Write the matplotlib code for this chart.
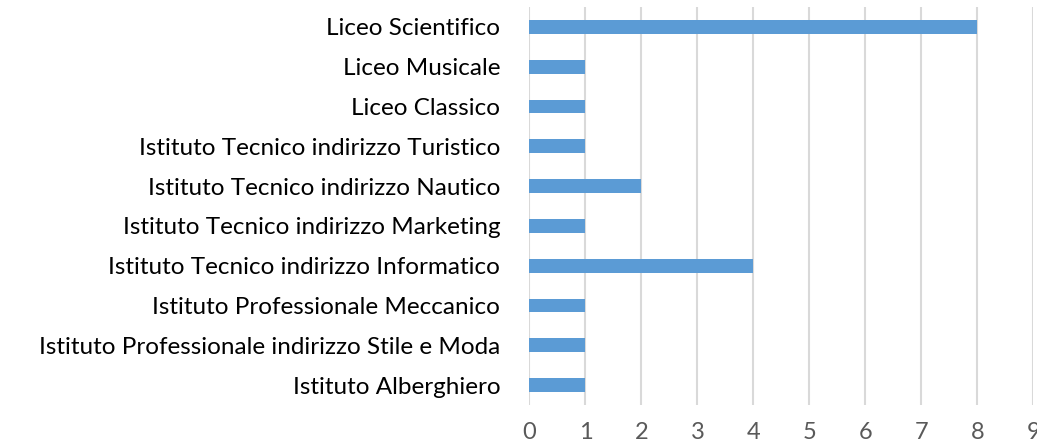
import matplotlib.pyplot as plt
import numpy as np

plt.rcParams['font.family'] = ['Lato', 'DejaVu Sans']

# dati (dal basso verso l'alto)
categorie = ['Istituto Alberghiero',
             'Istituto Professionale indirizzo Stile e Moda',
             'Istituto Professionale Meccanico',
             'Istituto Tecnico indirizzo Informatico',
             'Istituto Tecnico indirizzo Marketing',
             'Istituto Tecnico indirizzo Nautico',
             'Istituto Tecnico indirizzo Turistico',
             'Liceo Classico',
             'Liceo Musicale',
             'Liceo Scientifico']
valori = [1, 1, 1, 4, 1, 2, 1, 1, 1, 8]
x_ticks = list(range(0, 10))

fig = plt.figure(figsize=(10.37, 4.46), dpi=100)
ax = fig.add_axes([0.5106, 0.0919, 0.486, 0.8924])

y = np.arange(len(categorie))
ax.barh(y, valori, height=0.35, color='#5B9BD5', zorder=3)

ax.set_ylim(-0.5, len(categorie) - 0.5)
ax.set_xlim(0, 9)
ax.set_yticks(y)
ax.set_yticklabels(categorie, fontsize=17.5, color='#000000')
ax.set_xticks(x_ticks)
ax.set_xticklabels([str(t) for t in x_ticks], fontsize=17, color='#595959')
ax.tick_params(axis='y', length=0, pad=21)
ax.tick_params(axis='x', length=0, pad=12)

ax.grid(axis='x', color='#D9D9D9', linewidth=1.5, zorder=0)
for s in ax.spines.values():
    s.set_visible(False)

fig.savefig('out.png', dpi=100)
